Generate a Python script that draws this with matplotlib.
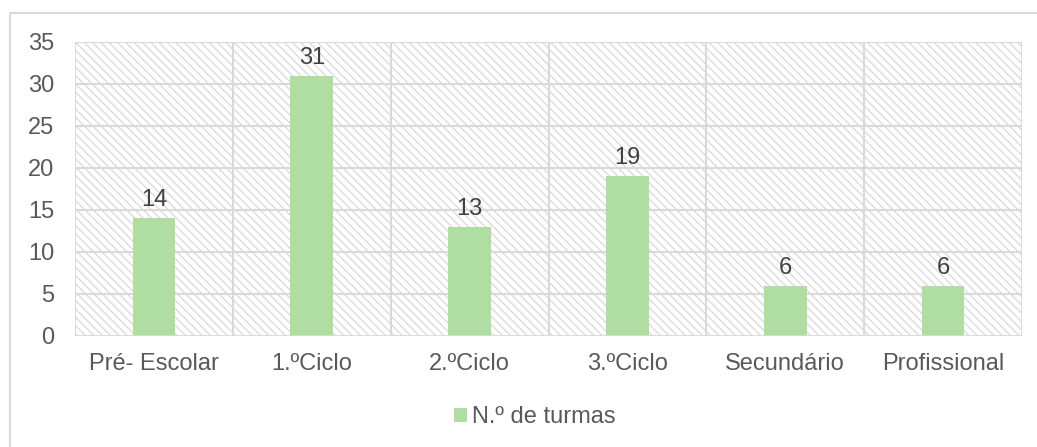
import numpy as np
import matplotlib
matplotlib.use("Agg")
import matplotlib.pyplot as plt
from matplotlib.patches import Rectangle

categories = ["Pré- Escolar", "1.ºCiclo", "2.ºCiclo", "3.ºCiclo", "Secundário", "Profissional"]
turmas = [14, 31, 13, 19, 6, 6]
series_name = "N.º de turmas"
yticks = [0, 5, 10, 15, 20, 25, 30, 35]

plt.rcParams['font.family'] = ['Liberation Sans', 'DejaVu Sans']
plt.rcParams['hatch.color'] = '#dadada'
plt.rcParams['hatch.linewidth'] = 0.9

W, H = 1037, 447
fig = plt.figure(figsize=(W / 100, H / 100), dpi=100)
ax = fig.add_axes([75 / W, 1 - 336 / H, (1022 - 75) / W, (336 - 42) / H])

grid_col = '#d9d9d9'
text_col = '#595959'
bar_col = '#b0dea2'
fs = 17

# hatched plot area background
ax.add_patch(Rectangle((0, 0), 1, 1, transform=ax.transAxes, facecolor='white',
                       edgecolor=grid_col, linewidth=0, hatch='\\\\\\\\', zorder=0))

x = np.arange(len(categories))
bars = ax.bar(x, turmas, width=0.27, color=bar_col, zorder=3, label=series_name)
ax.bar_label(bars, padding=5, fontsize=fs, color='#404040')

ax.set_xlim(-0.5, len(categories) - 0.5)
ax.set_ylim(0, 35)
ax.set_yticks(yticks)
ax.set_xticks(x)
ax.set_xticklabels(categories)

for y in yticks[1:]:
    ax.axhline(y, color=grid_col, linewidth=1.5, zorder=1)
for b in np.arange(-0.5, len(categories), 1.0):
    ax.axvline(b, color=grid_col, linewidth=1.5, zorder=1)

for s in ax.spines.values():
    s.set_visible(False)
ax.axhline(0, color=grid_col, linewidth=2, zorder=4)

ax.tick_params(axis='both', length=0, labelsize=fs, labelcolor=text_col)
ax.tick_params(axis='y', pad=15)
ax.tick_params(axis='x', pad=12)

fig.legend(handles=[bars], labels=[series_name], loc='center',
           bbox_to_anchor=(535 / W, 1 - 417 / H), frameon=False, fontsize=fs,
           labelcolor=text_col, handlelength=0.55, handleheight=0.55,
           handletextpad=0.2)

# outer chart border
fig.add_artist(Rectangle((10 / W, -0.1), 1.2, 1 - 13 / H + 0.1, transform=fig.transFigure,
                         facecolor='none', edgecolor=grid_col, linewidth=1.5))

fig.savefig("out.png", dpi=100)
